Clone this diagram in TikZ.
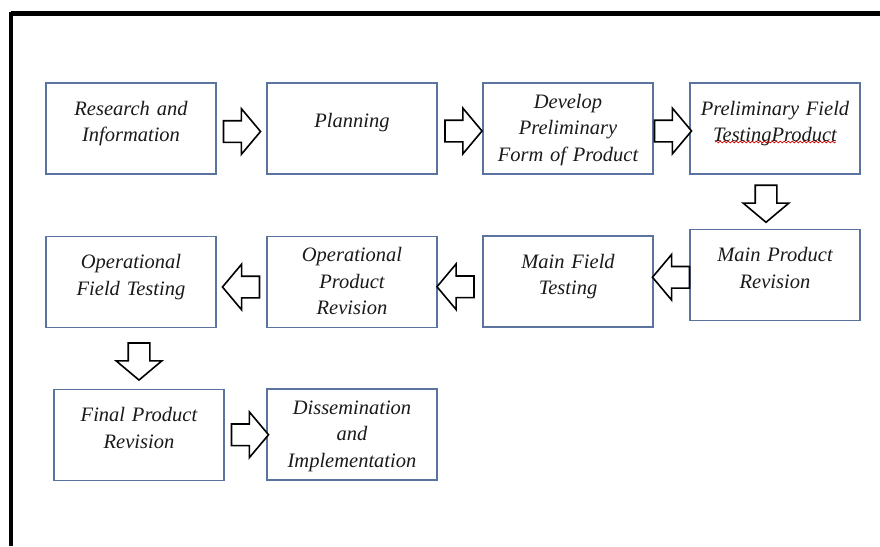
\documentclass[tikz,border=0pt]{standalone}
\usepackage{fontspec}
\setmainfont{Liberation Serif}
\usetikzlibrary{shapes.arrows,calc,decorations.pathmorphing}

\definecolor{boxline}{HTML}{5A739F}
\definecolor{inktext}{HTML}{1A1A1A}

\begin{document}
\begin{tikzpicture}[
    x=1pt, y=-1pt,
    stage/.style={rectangle, draw=boxline, line width=1.4pt, fill=white, minimum width=170pt, text width=160pt, align=center, inner ysep=0pt, font=\fontsize{20.5}{26.5}\selectfont\itshape, text=inktext},
    oneline/.style={stage, text height=44pt, text depth=47pt},
    twoline/.style={stage, text height=32pt, text depth=59pt},
    threeline/.style={stage, text height=25pt, text depth=66pt},
    blockarrow/.style={single arrow, draw=black, line width=1.6pt, fill=white, inner xsep=0pt, inner ysep=10pt, minimum height=37pt, minimum width=45pt, single arrow head extend=12pt, single arrow tip angle=100},
    spell/.style={red!85!black, line width=0.7pt, decorate, decoration={snake, amplitude=0.9pt, segment length=4pt}}
]

\useasboundingbox (0,0) rectangle (880,546);

% frame
\draw[line width=4.5pt] (11,13.5) -- (880,13.5);
\draw[line width=4pt] (11,11.5) -- (11,546);

% first row
\node[twoline] (research) at (131,128.5) {Research and\\Information};
\node[oneline] (planning) at (352,128.5) {Planning};
\node[threeline] (develop) at (568,128.5) {Develop\\Preliminary\\Form of Product};
\node[twoline] (prelim) at (775,128.5) {Preliminary Field\\TestingProduct};

% second row
\node[twoline] (mainrev) at (775,275) {Main Product\\Revision};
\node[twoline] (mainfield) at (568,281.5) {Main Field\\Testing};
\node[threeline] (oprev) at (352,282) {Operational\\Product\\Revision};
\node[twoline] (opfield) at (131,282) {Operational\\Field Testing};

% third row
\node[twoline] (finalrev) at (139,435) {Final Product\\Revision};
\node[threeline] (dissem) at (352,434.5) {Dissemination\\and\\Implementation};

% spell-check underline
\draw[spell] ([xshift=-60pt,yshift=-13.5pt]prelim.center) -- ([xshift=61pt,yshift=-13.5pt]prelim.center);

% block arrows between the steps
\node[blockarrow] (a1) at ($(research.east)!0.5!(planning.west)+(-4,3)$) {};
\node[blockarrow] (a2) at ($(planning.east)!0.5!(develop.west)+(-1,2.5)$) {};
\node[blockarrow] (a3) at ($(develop.east)!0.5!(prelim.west)+(-3,2.5)$) {};
\node[blockarrow, rotate=-90] (a4) at ($(prelim.south)!0.5!(mainrev.north)+(-9,-2.5)$) {};
\node[blockarrow, rotate=180] (a5) at ($(mainrev.west)!0.5!(mainfield.east)+(4,-1)$) {};
\node[blockarrow, rotate=180] (a6) at ($(mainfield.west)!0.5!(oprev.east)+(0,5)$) {};
\node[blockarrow, rotate=180] (a7) at ($(oprev.west)!0.5!(opfield.east)+(4,5)$) {};
\node[blockarrow, rotate=-90] (a8) at ($(opfield.south)!0.5!(finalrev.north)+(4,-1.5)$) {};
\node[blockarrow] (a9) at ($(finalrev.east)!0.5!(dissem.west)+(0,0)$) {};

\end{tikzpicture}
\end{document}
